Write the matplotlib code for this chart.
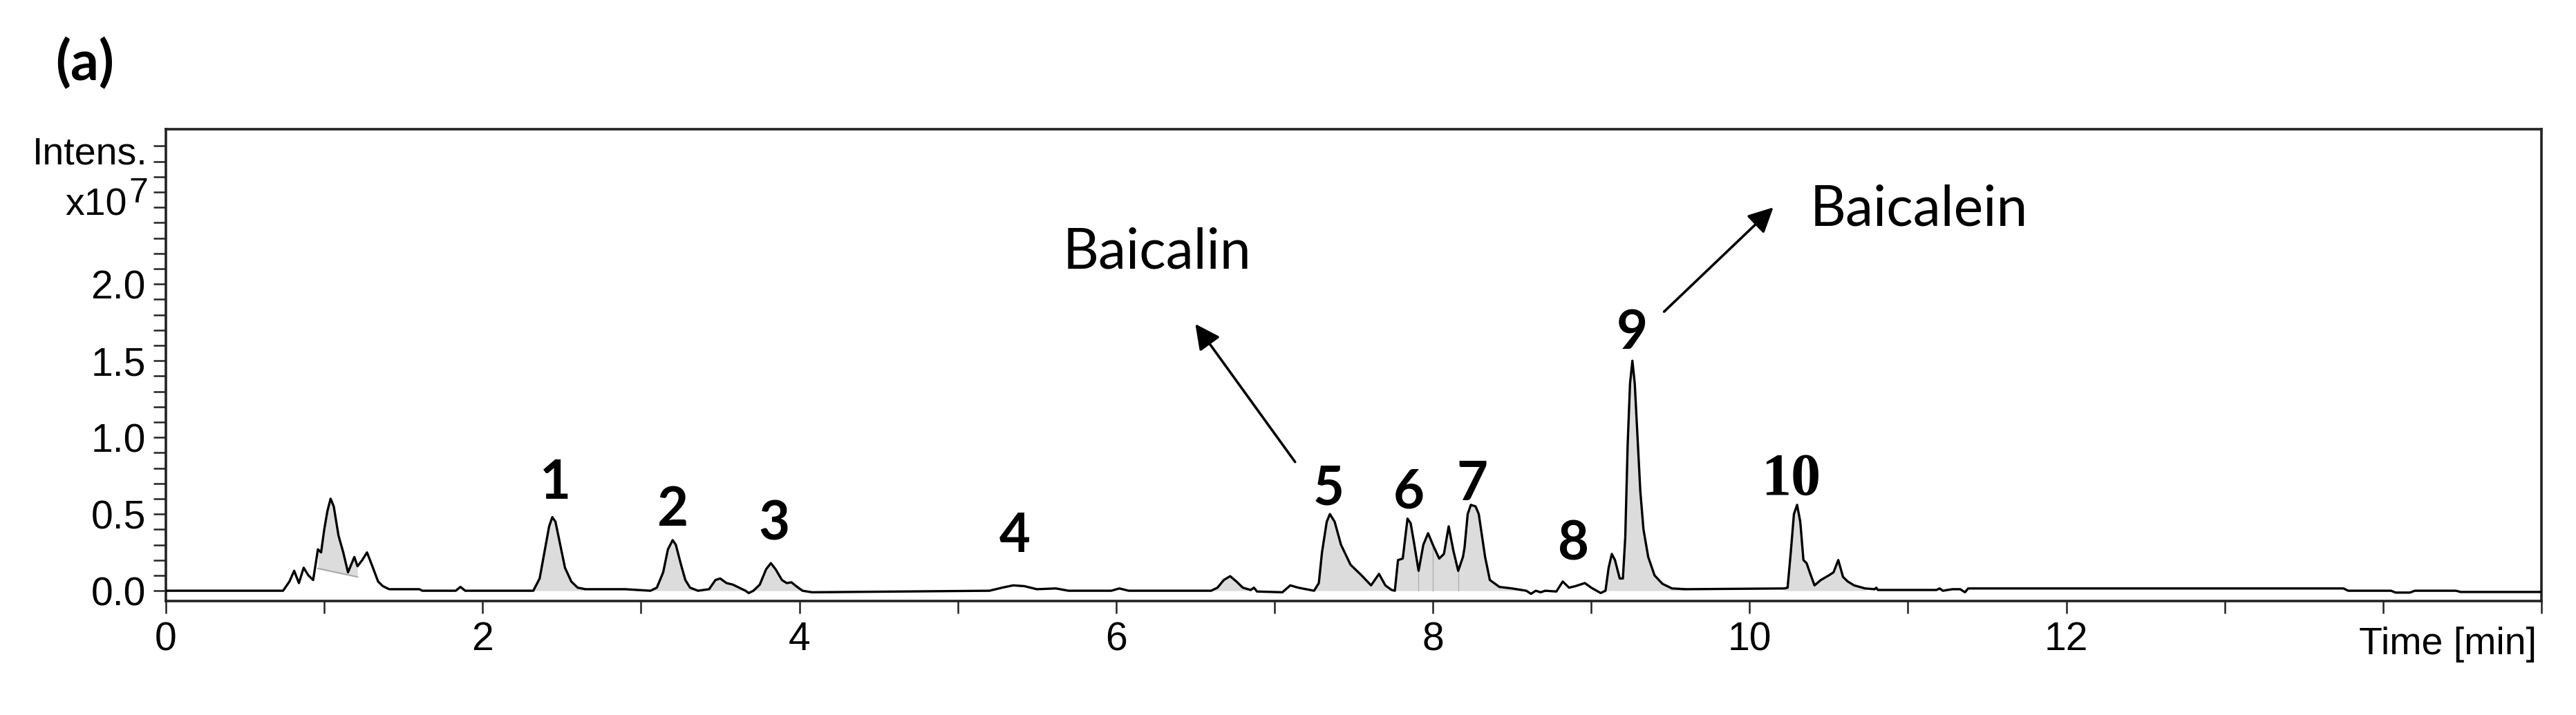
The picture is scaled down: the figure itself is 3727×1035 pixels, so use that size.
import numpy as np
import matplotlib
matplotlib.use("Agg")
import matplotlib.pyplot as plt
from matplotlib.ticker import FixedLocator

# ---------------- data ----------------
time_min = [
    0.00, 0.74, 0.78, 0.81, 0.84, 0.87, 0.90, 0.93, 0.96, 0.98, 1.00, 1.02, 1.04, 1.06,
    1.09, 1.12, 1.15, 1.19, 1.21, 1.24, 1.27, 1.30, 1.34, 1.37, 1.41, 1.60, 1.62,
    1.83, 1.86, 1.89, 2.32, 2.36, 2.39, 2.42, 2.44, 2.46, 2.49, 2.52, 2.56, 2.60,
    2.65, 2.90, 3.06, 3.10, 3.14, 3.17, 3.20, 3.22, 3.25, 3.28, 3.31, 3.36, 3.43,
    3.47, 3.50, 3.54, 3.58, 3.62, 3.66, 3.68, 3.71, 3.75, 3.79, 3.82, 3.85, 3.89,
    3.92, 3.95, 3.98, 4.02, 4.08, 5.20, 5.28, 5.35, 5.42, 5.50, 5.62, 5.70, 5.97,
    6.02, 6.08, 6.60, 6.64, 6.68, 6.72, 6.76, 6.80, 6.85, 6.87, 6.89, 7.05, 7.10,
    7.15, 7.25, 7.28, 7.30, 7.33, 7.35, 7.38, 7.42, 7.48, 7.55, 7.61, 7.66, 7.70,
    7.74, 7.76, 7.78, 7.81, 7.84, 7.86, 7.88, 7.91, 7.94, 7.97, 8.00, 8.04, 8.07,
    8.10, 8.13, 8.16, 8.19, 8.20, 8.22, 8.24, 8.27, 8.29, 8.33, 8.36, 8.42, 8.50,
    8.59, 8.62, 8.65, 8.68, 8.71, 8.78, 8.82, 8.86, 8.90, 8.96, 9.00, 9.06, 9.09,
    9.11, 9.13, 9.15, 9.18, 9.20, 9.215, 9.23, 9.245, 9.26, 9.275, 9.29, 9.31,
    9.33, 9.36, 9.40, 9.45, 9.51, 9.60, 10.22, 10.24, 10.26, 10.28, 10.30, 10.32,
    10.34, 10.36, 10.38, 10.41, 10.45, 10.50, 10.53, 10.56, 10.59, 10.62, 10.66,
    10.73, 10.79, 10.80, 10.81, 11.18, 11.20, 11.22, 11.28, 11.33, 11.36, 11.38,
    13.75, 13.78, 14.05, 14.08, 14.17, 14.20, 14.46, 14.49, 15.00,
]
intensity_e7 = [
    0.00, 0.00, 0.06, 0.13, 0.05, 0.15, 0.10, 0.07, 0.27, 0.25, 0.40, 0.52, 0.60, 0.55,
    0.36, 0.25, 0.12, 0.22, 0.16, 0.20, 0.25, 0.17, 0.06, 0.03, 0.01, 0.01, 0.00,
    0.00, 0.025, 0.00, 0.00, 0.08, 0.25, 0.42, 0.48, 0.45, 0.30, 0.15, 0.06, 0.02,
    0.01, 0.01, 0.00, 0.02, 0.12, 0.27, 0.33, 0.30, 0.18, 0.07, 0.02, 0.00, 0.01,
    0.07, 0.08, 0.05, 0.04, 0.02, 0.00, -0.015, 0.00, 0.04, 0.14, 0.18, 0.14, 0.07,
    0.05, 0.055, 0.03, 0.00, -0.01, 0.00, 0.02, 0.035, 0.03, 0.01, 0.015, 0.00, 0.00,
    0.015, 0.00, 0.00, 0.02, 0.07, 0.095, 0.06, 0.02, 0.005, 0.02, -0.005, -0.01, 0.035,
    0.02, 0.00, 0.05, 0.25, 0.45, 0.50, 0.45, 0.30, 0.17, 0.10, 0.035, 0.11, 0.035,
    0.005, 0.00, 0.20, 0.21, 0.47, 0.44, 0.32, 0.13, 0.30, 0.375, 0.30, 0.21, 0.24,
    0.42, 0.26, 0.13, 0.22, 0.28, 0.50, 0.56, 0.55, 0.50, 0.22, 0.07, 0.025, 0.015,
    0.00, -0.02, 0.00, -0.01, 0.00, -0.005, 0.06, 0.02, 0.03, 0.05, 0.02, -0.015, 0.00,
    0.15, 0.24, 0.20, 0.08, 0.08, 0.35, 0.95, 1.35, 1.50, 1.35, 1.05, 0.65,
    0.40, 0.22, 0.10, 0.045, 0.015, 0.01, 0.015, 0.02, 0.25, 0.50, 0.56, 0.45,
    0.20, 0.18, 0.12, 0.035, 0.07, 0.10, 0.12, 0.20, 0.09, 0.06, 0.035,
    0.015, 0.01, 0.02, 0.005, 0.005, 0.015, 0.00, 0.01, 0.01, -0.01, 0.015,
    0.015, 0.00, 0.00, -0.012, -0.012, 0.00, 0.00, -0.008, -0.008,
]

# integrated peak windows (start, end) in minutes, filled down to zero
peak_windows = [(2.32, 2.65), (3.06, 3.36), (3.43, 3.66), (3.71, 4.02),
                (6.60, 6.85), (7.25, 7.76), (7.76, 8.59), (9.09, 9.60), (10.22, 10.73)]
# first cluster, integrated to a sloped baseline
cluster_window = (0.96, 1.21)
cluster_baseline = (0.145, 0.09)
# split lines inside the 6/7 group
split_times = [7.91, 8.00, 8.16]

peak_labels = ["1", "2", "3", "4", "5", "6", "7", "8", "9", "10"]
label_x = [2.46, 3.20, 3.84, 5.36, 7.34, 7.85, 8.25, 8.89, 9.26, 10.26]
label_y = [0.70, 0.525, 0.43, 0.35, 0.66, 0.64, 0.69, 0.30, 1.675, 0.72]

x_tick_values = [0, 2, 4, 6, 8, 10, 12]
x_tick_labels = ["0", "2", "4", "6", "8", "10", "12"]
x_minor_values = [1, 3, 5, 7, 9, 11, 13, 14, 15]
y_tick_values = [0.0, 0.5, 1.0, 1.5, 2.0]
y_tick_labels = ["0.0", "0.5", "1.0", "1.5", "2.0"]
y_minor_values = [round(0.1 * i, 1) for i in range(30)]

# ---------------- figure ----------------
W, H = 3727, 1035
fig = plt.figure(figsize=(W / 100, H / 100), dpi=100)
ax = fig.add_axes([240 / W, 1 - 870 / H, (3677 - 240) / W, (870 - 187) / H])

t = np.array(time_min)
y = np.array(intensity_e7)

fill_col = "#dcdcdc"
for a, b in peak_windows:
    m = (t >= a) & (t <= b)
    ax.fill_between(t[m], y[m], 0, color=fill_col, lw=0, zorder=1)

m = (t >= cluster_window[0]) & (t <= cluster_window[1])
base = np.interp(t[m], cluster_window, cluster_baseline)
ax.fill_between(t[m], y[m], base, color=fill_col, lw=0, zorder=1)
ax.plot(cluster_window, cluster_baseline, color="#a8a8a8", lw=1.5, zorder=1.5)

for st in split_times:
    i = time_min.index(st)
    ax.plot([st, st], [0, intensity_e7[i]], color="#b0b0b0", lw=1.0, zorder=1.5)

ax.plot(t, y, color="black", lw=2.4, zorder=3)

ax.set_xlim(0, 15)
ax.set_ylim(-0.067, 3.01)

ax.xaxis.set_major_locator(FixedLocator(x_tick_values))
ax.set_xticklabels(x_tick_labels)
ax.xaxis.set_minor_locator(FixedLocator(x_minor_values))
ax.yaxis.set_major_locator(FixedLocator(y_tick_values))
ax.set_yticklabels(y_tick_labels)
ax.yaxis.set_minor_locator(FixedLocator(y_minor_values))

tick_font = "Liberation Sans"
for lab in ax.get_xticklabels() + ax.get_yticklabels():
    lab.set_family(tick_font)
ax.tick_params(which="both", direction="out", length=13, width=1.8, color="#222222",
               labelsize=41, pad=8)
for s in ax.spines.values():
    s.set_linewidth(2.6)
    s.set_color("#222222")

for s, xx, yy in zip(peak_labels, label_x, label_y):
    if s == "10":
        ax.text(xx, yy, s, ha="center", va="center", fontsize=62, fontweight="bold",
                family="Liberation Serif", zorder=4)
    else:
        ax.text(xx, yy, s, ha="center", va="center", fontsize=56, fontweight="bold",
                family="Lato", zorder=4)

arrow_kw = dict(arrowstyle="-|>", lw=2.6, color="black", mutation_scale=55,
                shrinkA=0, shrinkB=0)
ax.annotate("", xy=(6.50, 1.74), xytext=(7.13, 0.84), arrowprops=arrow_kw)
ax.annotate("", xy=(10.15, 2.50), xytext=(9.46, 1.82), arrowprops=arrow_kw)

ax.text(6.26, 2.10, "Baicalin", ha="center", va="baseline", fontsize=58, family="Lato")
ax.text(10.38, 2.38, "Baicalein", ha="left", va="baseline", fontsize=58, family="Lato")

fig.text(214 / W, 1 - 238 / H, "Intens.", ha="right", va="baseline", fontsize=40,
         family=tick_font)
fig.text(184 / W, 1 - 312 / H, "x10", ha="right", va="baseline", fontsize=40,
         family=tick_font)
fig.text(186 / W, 1 - 293 / H, "7", ha="left", va="baseline", fontsize=36,
         family=tick_font)
fig.text(3670 / W, 1 - 947 / H, "Time [min]", ha="right", va="baseline", fontsize=40,
         family=tick_font)
fig.text(123 / W, 1 - 92 / H, "(a)", ha="center", va="center", fontsize=58,
         fontweight="bold", family="Lato")

fig.savefig("out.png", dpi=100, facecolor="white")
